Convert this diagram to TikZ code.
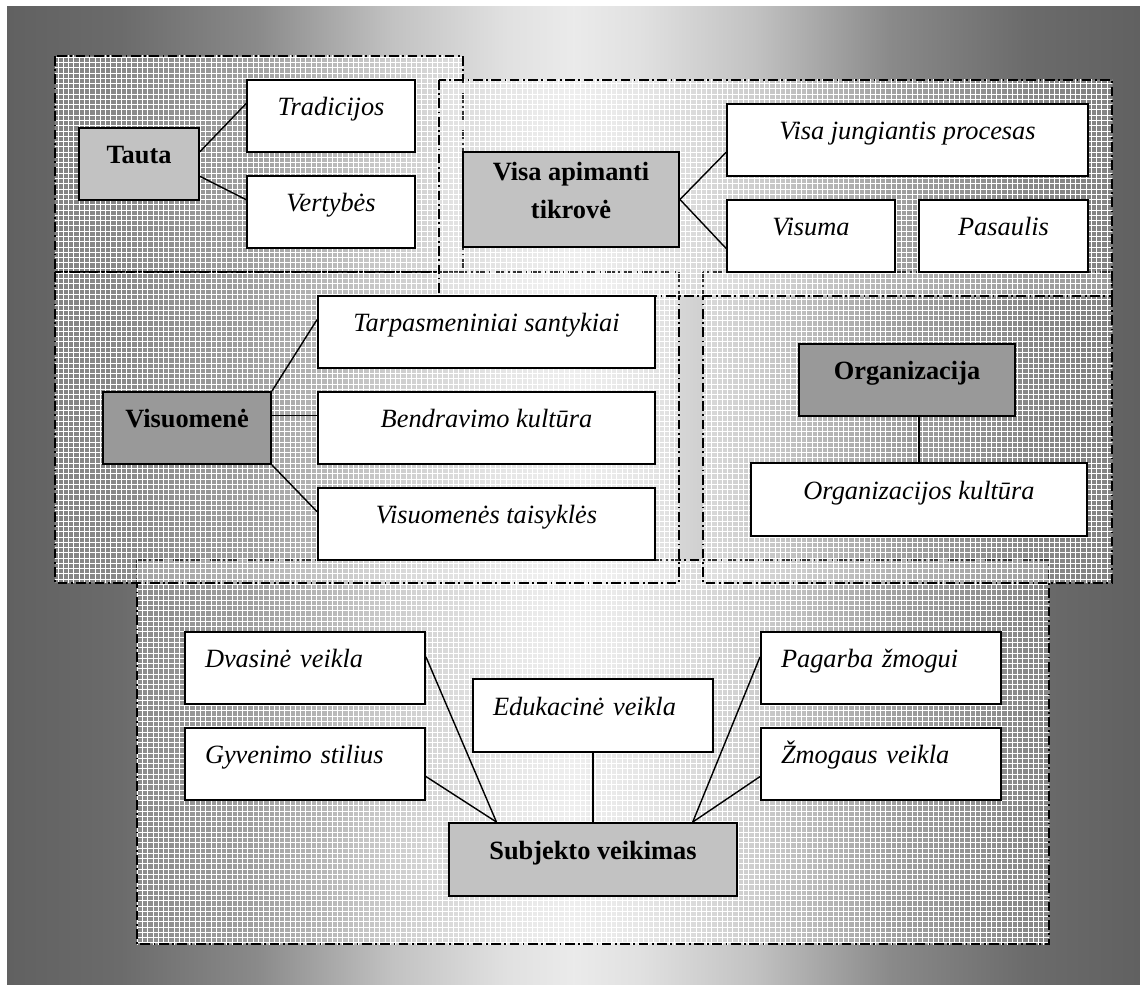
\documentclass[tikz,border=0pt]{standalone}
\usepackage{fontspec}
\setmainfont{Liberation Serif}
\usetikzlibrary{calc, patterns}

\definecolor{pilkaSv}{gray}{0.76}
\definecolor{pilkaTm}{gray}{0.60}

\pgfdeclarehorizontalshading{fonoSp}{100bp}{color(0bp)=(black!62); color(25bp)=(black!62);
  color(30bp)=(black!58); color(36bp)=(black!46); color(42bp)=(black!24); color(47bp)=(black!12);
  color(50bp)=(black!8); color(53bp)=(black!12); color(58bp)=(black!24); color(64bp)=(black!46);
  color(70bp)=(black!58); color(75bp)=(black!62); color(100bp)=(black!62)}

\begin{document}
\begin{tikzpicture}[
    fonas/.style   = {shading=fonoSp},
    grupe/.style   = {draw=black, line width=0.85pt, dash pattern=on 5.5pt off 2pt on 1pt off 2pt,
                      fill=white, fill opacity=0.2,
                      preaction={pattern=grid, pattern color=white, fill opacity=0.22}},
    centras/.style = {draw=black, line width=1.1pt, fill=pilkaSv, align=center,
                      font=\fontsize{15}{18}\selectfont\bfseries,
                      text height=8pt, text depth=8pt, minimum height=1.44cm},
    lapas/.style   = {draw=black, line width=1.1pt, fill=white, align=center,
                      font=\fontsize{15}{18}\selectfont\itshape,
                      text height=8pt, text depth=8pt, minimum height=1.44cm},
    lapasK/.style  = {lapas, text width=4.0cm, inner xsep=0.4cm, align=left},
    jungtis/.style = {draw=black, line width=0.8pt},
]

\useasboundingbox (0,0) rectangle (22.8,-19.7);

% --- Fonas ---
\shade[fonas] (0.14,-0.14) rectangle (22.8,-19.7);

% --- Grupiu remai (dash dot) ---
\draw[grupe] (2.74,-11.20) rectangle (20.98,-18.88);
\draw[grupe] (1.10,-1.12)  rectangle (9.26,-5.44);
\draw[grupe] (1.10,-5.44)  rectangle (13.58,-11.66);
\draw[grupe] (14.06,-5.44) rectangle (22.24,-11.66);
\draw[grupe] (8.78,-1.60)  rectangle (22.24,-5.92);

% --- Tauta ---
\node[centras, minimum width=2.4cm] (tauta) at (2.78,-3.28) {Tauta};
\node[lapas, minimum width=3.36cm]  (trad)  at (6.62,-2.32) {Tradicijos};
\node[lapas, minimum width=3.36cm]  (vert)  at (6.62,-4.24) {Vertybės};

% --- Visa apimanti tikrove ---
\node[centras, minimum width=4.32cm, minimum height=1.9cm, text height=30pt, text depth=8pt]
    (tikrove) at (11.42,-3.99) {Visa apimanti\\[4pt]tikrovė};
\node[lapas, minimum width=7.22cm] (procesas) at (18.15,-2.80) {Visa jungiantis procesas};
\node[lapas, minimum width=3.36cm] (visuma)   at (16.22,-4.72) {Visuma};
\node[lapas, minimum width=3.38cm] (pasaulis) at (20.07,-4.72) {Pasaulis};

% --- Visuomene ---
\node[centras, fill=pilkaTm, minimum width=3.36cm] (visuomene) at (3.74,-8.56) {Visuomenė};
\node[lapas, minimum width=6.74cm] (santykiai) at (9.73,-6.64)  {Tarpasmeniniai santykiai};
\node[lapas, minimum width=6.74cm] (bendrav)   at (9.73,-8.56)  {Bendravimo kultūra};
\node[lapas, minimum width=6.74cm] (taisykles) at (9.73,-10.48) {Visuomenės taisyklės};

% --- Organizacija ---
\node[centras, fill=pilkaTm, minimum width=4.32cm] (organiz) at (18.14,-7.60) {Organizacija};
\node[lapas, minimum width=6.72cm, minimum height=1.46cm] (orgkult) at (18.38,-9.99) {Organizacijos kultūra};

% --- Subjekto veikimas ---
\node[lapasK] (dvasine)  at (6.10,-13.36)  {Dvasinė veikla};
\node[lapasK] (gyvenimo) at (6.10,-15.28)  {Gyvenimo stilius};
\node[lapasK, minimum height=1.46cm] (edukac) at (11.86,-14.31) {Edukacinė veikla};
\node[lapasK] (pagarba)  at (17.62,-13.36) {Pagarba žmogui};
\node[lapasK] (zmogaus)  at (17.62,-15.28) {Žmogaus veikla};
\node[centras, minimum width=5.76cm, minimum height=1.46cm] (subjekt) at (11.86,-17.19) {Subjekto veikimas};

\coordinate (subjL) at ($(subjekt.north west)!0.167!(subjekt.north east)$);
\coordinate (subjR) at ($(subjekt.north west)!0.844!(subjekt.north east)$);

% --- Jungtys ---
\draw[jungtis] ($(tauta.north east)!0.333!(tauta.south east)$) -- ($(trad.north west)!0.333!(trad.south west)$);
\draw[jungtis] ($(tauta.north east)!0.667!(tauta.south east)$) -- ($(vert.north west)!0.333!(vert.south west)$);

\draw[jungtis] (tikrove.east) -- ($(procesas.north west)!0.667!(procesas.south west)$);
\draw[jungtis] (tikrove.east) -- ($(visuma.north west)!0.667!(visuma.south west)$);

\draw[jungtis] (visuomene.north east) -- ($(santykiai.north west)!0.333!(santykiai.south west)$);
\draw[jungtis] ($(visuomene.north east)!0.333!(visuomene.south east)$) -- ($(bendrav.north west)!0.333!(bendrav.south west)$);
\draw[jungtis] (visuomene.south east) -- ($(taisykles.north west)!0.333!(taisykles.south west)$);

\draw[jungtis] (orgkult.north) -- (orgkult.north |- organiz.south);

\draw[jungtis] ($(dvasine.north east)!0.35!(dvasine.south east)$) -- (subjL);
\draw[jungtis] ($(gyvenimo.north east)!0.67!(gyvenimo.south east)$) -- (subjL);
\draw[jungtis] (edukac.south) -- (subjekt.north);
\draw[jungtis] ($(pagarba.north west)!0.35!(pagarba.south west)$) -- (subjR);
\draw[jungtis] ($(zmogaus.north west)!0.67!(zmogaus.south west)$) -- (subjR);

\end{tikzpicture}
\end{document}
